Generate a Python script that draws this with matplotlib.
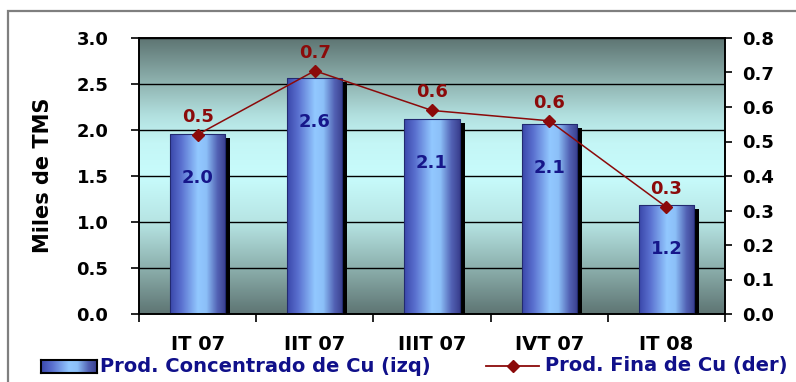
import numpy as np
import matplotlib
matplotlib.use("Agg")
import matplotlib.pyplot as plt
from matplotlib.colors import LinearSegmentedColormap
from matplotlib.patches import Rectangle
from matplotlib.lines import Line2D
from matplotlib.transforms import ScaledTranslation

# Quarterly copper production
quarters = ["IT 07", "IIT 07", "IIIT 07", "IVT 07", "IT 08"]
concentrado = [1.96, 2.57, 2.12, 2.06, 1.19]   # miles de TMS (left axis)
fina = [0.52, 0.705, 0.59, 0.56, 0.31]          # right axis

legend_bar = "Prod. Concentrado de Cu (izq)"
legend_line = "Prod. Fina de Cu (der)"
ylabel = "Miles de TMS"

W, H, DPI = 796, 382, 100
fig = plt.figure(figsize=(W / DPI, H / DPI), dpi=DPI)
fig.patch.set_facecolor("white")

def fx(px):
    return px / W

def fy(py):
    return 1 - py / H

ax = fig.add_axes([fx(139), fy(314), fx(725) - fx(139), fy(38) - fy(314)])
ax.patch.set_visible(False)

bg_cmap = LinearSegmentedColormap.from_list("bg", [
    (0.0, "#5e7573"), (0.17, "#8db1ae"), (0.33, "#b6e4e3"), (0.5, "#c8fcfc"),
    (0.62, "#c4f6f6"), (0.72, "#b2e0df"), (0.84, "#8fb3b0"), (1.0, "#5e7573")])
grad = np.linspace(0, 1, 256).reshape(-1, 1)
ax.imshow(grad, cmap=bg_cmap, aspect="auto", extent=(0, 1, 0, 1),
          origin="lower", transform=ax.transAxes, zorder=0.1)

x = np.arange(len(quarters))
bw = 0.47

bars = ax.bar(x, concentrado, width=bw, facecolor="none",
              edgecolor="#222a70", linewidth=0.8, zorder=3)

bar_cmap = LinearSegmentedColormap.from_list("bar", [
    (0.0, "#3a47aa"), (0.2, "#5a70cf"), (0.5, "#92c8ff"), (0.65, "#8cc0f8"),
    (0.85, "#5262b4"), (1.0, "#393f8e")])
hgrad = np.linspace(0, 1, 256).reshape(1, -1)
shift = ScaledTranslation(5 / DPI, -4 / DPI, fig.dpi_scale_trans)
for b in bars:
    x0, w, h = b.get_x(), b.get_width(), b.get_height()
    shadow = Rectangle((x0, 0), w, h, facecolor="black", edgecolor="none",
                       transform=ax.transData + shift, zorder=1.5)
    ax.add_patch(shadow)
    im = ax.imshow(hgrad, cmap=bar_cmap, aspect="auto",
                   extent=(x0, x0 + w, 0, h), zorder=2)
    im.set_clip_path(b)
ax.set_xlim(-0.5, len(quarters) - 0.5)
ax.set_ylim(0, 3.0)

for xi, v in zip(x, concentrado):
    ax.annotate(f"{v:.1f}", (xi, v), xytext=(0, -44), textcoords="offset pixels",
                ha="center", va="center", fontsize=13, fontweight="bold",
                color="#16168a", zorder=5)

ax.set_yticks(np.arange(0, 3.01, 0.5))
ax.set_yticklabels([f"{t:.1f}" for t in np.arange(0, 3.01, 0.5)])
ax.yaxis.grid(True, color="black", linewidth=1)
ax.set_axisbelow(True)
ax.set_xticks(x)
ax.set_xticklabels(quarters)
ax.set_xticks(np.arange(-0.5, len(quarters), 1.0), minor=True)
ax.tick_params(axis="x", which="major", length=0, pad=15, labelsize=14)
ax.tick_params(axis="x", which="minor", length=6, width=1.2, direction="out")
ax.tick_params(axis="y", length=6, width=1.2, pad=16, labelsize=13)
for lab in ax.get_xticklabels() + ax.get_yticklabels():
    lab.set_fontweight("bold")
for s in ax.spines.values():
    s.set_color("black")
    s.set_linewidth(1.2)

ax2 = ax.twinx()
ax2.set_ylim(0, 0.8)
ax2.set_yticks(np.arange(0, 0.81, 0.1))
ax2.set_yticklabels([f"{t:.1f}" for t in np.arange(0, 0.81, 0.1)])
ax2.tick_params(axis="y", length=5, width=1.2, pad=7, labelsize=13)
for lab in ax2.get_yticklabels():
    lab.set_fontweight("bold")
for s in ax2.spines.values():
    s.set_color("black")
    s.set_linewidth(1.2)

line_color = "#8b0a0a"
ax2.plot(x, fina, color=line_color, linewidth=1.1, marker="D", markersize=6,
         zorder=4)
for xi, v in zip(x, fina):
    ax2.annotate(f"{v:.1f}", (xi, v), xytext=(0, 18), textcoords="offset pixels",
                 ha="center", va="center", fontsize=13, fontweight="bold",
                 color=line_color, zorder=5)

fig.text(fx(43), fy(175), ylabel, rotation=90, ha="center", va="center",
         fontsize=15, fontweight="bold", color="black")

# legend
sw = fig.add_axes([fx(41), fy(373), fx(97) - fx(41), fy(360) - fy(373)])
sw.imshow(hgrad, cmap=bar_cmap, aspect="auto", extent=(0, 1, 0, 1))
sw.set_xticks([])
sw.set_yticks([])
for s in sw.spines.values():
    s.set_color("black")
    s.set_linewidth(1.5)
fig.text(fx(100), fy(366), legend_bar, ha="left", va="center", fontsize=14,
         fontweight="bold", color="#10108a")
fig.add_artist(Line2D([fx(486), fx(539)], [fy(366), fy(366)], color=line_color,
                      linewidth=1.3, transform=fig.transFigure))
fig.add_artist(Line2D([fx(512.5)], [fy(366)], color=line_color, marker="D",
                      markersize=6, linestyle="none", transform=fig.transFigure))
fig.text(fx(545), fy(366), legend_line, ha="left", va="center", fontsize=14,
         fontweight="bold", color="#10108a")

# outer frame
fig.add_artist(Rectangle((fx(8), -0.05), 1.2, fy(11) + 0.05, fill=False,
                         edgecolor="#7f7f7f", linewidth=1.6,
                         transform=fig.transFigure))

fig.savefig("out.png", dpi=DPI)
